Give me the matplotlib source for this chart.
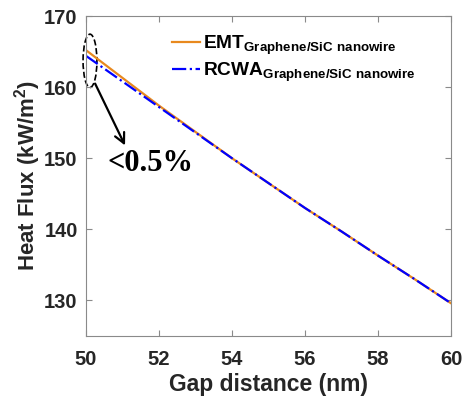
import matplotlib
matplotlib.use("Agg")
import matplotlib.pyplot as plt
from matplotlib.patches import Ellipse

# ---------------------------------------------------------------------
# data
# ---------------------------------------------------------------------

gap_nm = [50, 51, 52, 53, 54, 55, 56, 57, 58, 59, 60]
flux_emt = [165.2, 161.3, 157.4, 153.7, 150.0, 146.5, 143.0, 139.7, 136.3, 133.0, 129.6]
flux_rcwa = [164.4, 160.8, 157.2, 153.6, 150.0, 146.5, 143.0, 139.7, 136.3, 133.0, 129.6]
x_ticks = [50, 52, 54, 56, 58, 60]
y_ticks = [130, 140, 150, 160, 170]

color_emt = "#E8891E"
color_rcwa = "#0000FF"
spine_gray = "#8a8a8a"

plt.rcParams["font.family"] = ["Liberation Sans", "DejaVu Sans"]
plt.rcParams["mathtext.fontset"] = "custom"
plt.rcParams["mathtext.bf"] = "Liberation Sans:bold"
plt.rcParams["mathtext.rm"] = "Liberation Sans:bold"

fig = plt.figure(figsize=(4.66, 3.96), dpi=100)
ax = fig.add_axes([0.1845, 0.1515, 0.7835, 0.808])

ax.plot(gap_nm, flux_emt, color=color_emt, lw=1.6, ls="-",
        label=r"$\mathbf{EMT}_{\mathbf{Graphene/SiC\ nanowire}}$")
ax.plot(gap_nm, flux_rcwa, color=color_rcwa, lw=1.6, ls="-.",
        label=r"$\mathbf{RCWA}_{\mathbf{Graphene/SiC\ nanowire}}$")

ax.set_xlim(50, 60)
ax.set_ylim(125, 170)
ax.set_xticks(x_ticks)
ax.set_yticks(y_ticks)
ax.tick_params(direction="in", top=True, right=True, length=4,
               color=spine_gray, labelsize=14.5)
ax.tick_params(axis="x", pad=10)
ax.tick_params(axis="y", pad=6)
for lab in ax.get_xticklabels() + ax.get_yticklabels():
    lab.set_fontweight("bold")
    lab.set_color("#262626")
for sp in ax.spines.values():
    sp.set_color(spine_gray)

ax.set_xlabel("Gap distance (nm)", fontsize=16.5, fontweight="bold",
              color="#262626", labelpad=3)
ax.set_ylabel(r"Heat Flux (kW/m$^\mathbf{2}$)", fontsize=16,
              fontweight="bold", color="#262626", labelpad=1)

leg = ax.legend(loc="upper left", bbox_to_anchor=(0.235, 0.945),
                frameon=False, fontsize=13.8, handlelength=1.45,
                handletextpad=0.2, borderpad=0, borderaxespad=0,
                labelspacing=0.2)

# dashed ellipse around the gap at 50 nm, arrow and percentage note
ell = Ellipse((50.11, 163.7), 0.38, 7.5, fill=False, ls="--",
              lw=1.2, color="black", clip_on=False)
ax.add_patch(ell)
ax.annotate("", xy=(51.07, 151.8), xytext=(50.25, 160.5),
            arrowprops=dict(arrowstyle="->", color="black", lw=1.6,
                            mutation_scale=18, shrinkA=0, shrinkB=0))
ax.text(50.6, 149.3, "<0.5%", fontsize=22, fontweight="bold",
        family=["Liberation Serif"], va="center", ha="left")

fig.savefig("out.png", dpi=100)
